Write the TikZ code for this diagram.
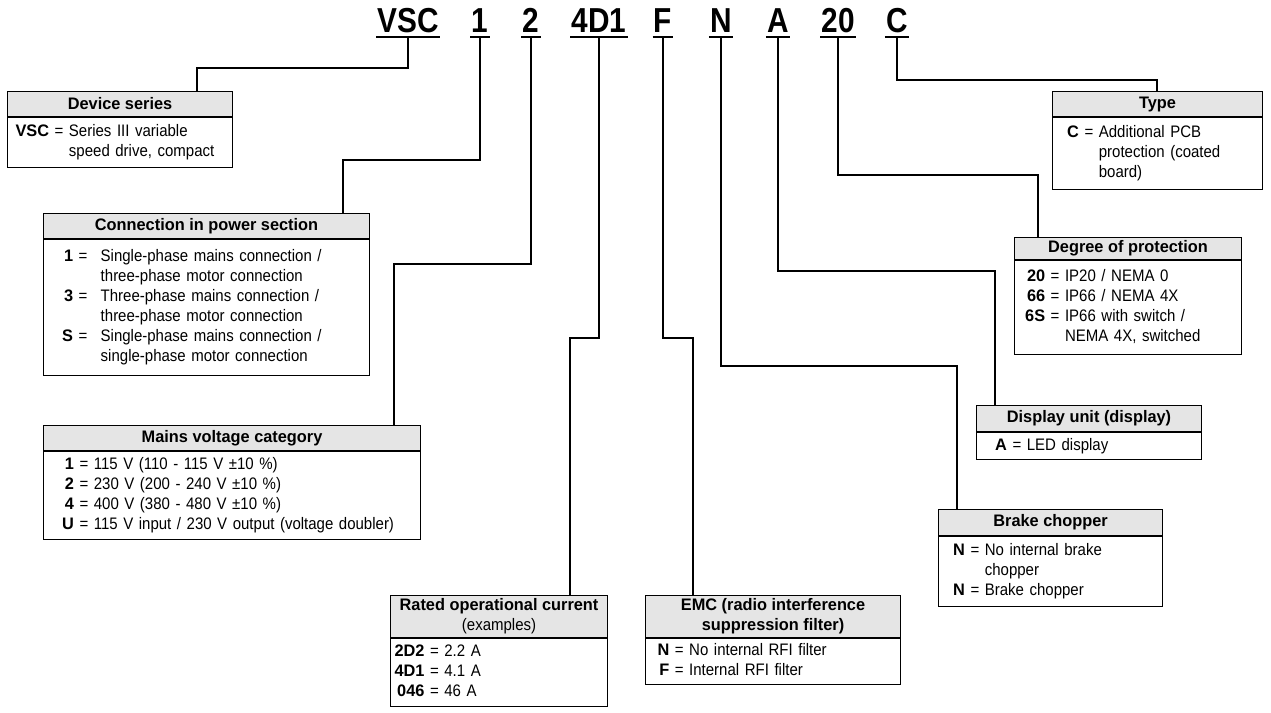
\documentclass[tikz,border=0pt]{standalone}
\usepackage{fontspec}
\setmainfont{Liberation Sans}[FakeStretch=0.9, BoldFeatures={FakeStretch=0.98}]
\newfontfamily\codefont{Liberation Sans}[FakeStretch=0.86]
\definecolor{hdrgray}{gray}{0.9}

\newcommand{\eqs}{\mbox{\ =\ }}
\newcommand{\keyrow}[2]{\textbf{#1} & \eqs & #2\\}
\newcommand{\controw}[1]{& & #1\\}

\begin{document}
\begin{tikzpicture}[x = 0.75pt, y = -0.75pt,
	wire/.style = {line width = 1.1pt},
	code/.style = {font = \codefont\bfseries\fontsize{26}{26}\selectfont, anchor = base, inner xsep = 1pt, inner ysep = 0pt, outer sep = 0pt},
	hdr/.style 2 args = {draw, line width = 0.8pt, fill = hdrgray, anchor = north west, minimum width = #1, minimum height = #2, inner sep = 0pt, align = center, font = \bfseries\fontsize{12.5}{15}\selectfont},
	bdy/.style n args = {3}{draw, line width = 0.8pt, anchor = north west, minimum width = #1, minimum height = #2, inner xsep = #3, inner ysep = 0pt, text width = #1-2*#3, align = left, font = \fontsize{12.5}{15}\selectfont}]

	\useasboundingbox (0, 0) rectangle (1271, 713);

	% type code
	\node[code] (c-vsc)  at (408, 33) {VSC};
	\node[code] (c-conn) at (480, 33) {1};
	\node[code] (c-volt) at (531, 33) {2};
	\node[code] (c-cur)  at (599, 33) {4D1};
	\node[code] (c-emc)  at (663, 33) {F};
	\node[code] (c-brk)  at (721, 33) {N};
	\node[code] (c-disp) at (778, 33) {A};
	\node[code] (c-prot) at (838, 33) {20};
	\node[code] (c-type) at (897, 33) {C};

	\foreach \c in {c-vsc, c-conn, c-volt, c-cur, c-emc, c-brk, c-disp, c-prot, c-type} {
		\draw[line width = 1.5pt] ([yshift = -3pt]\c.base west) -- ([yshift = -3pt]\c.base east);
		\coordinate (\c-u) at ([yshift = -3pt]\c.base);
	}

	% left column
	\node[hdr = {168.75pt}{18.75pt}] (dev) at (7, 91) {Device series};
	\node[bdy = {168.75pt}{37.5pt}{6pt}] (dev-b) at (dev.south west) {%
		\begin{tabular}{@{}r@{}l@{}l@{}}
			\keyrow{VSC}{Series III variable}
			\controw{speed drive, compact}
		\end{tabular}};

	\node[hdr = {244.5pt}{18.75pt}] (conn) at (43, 213) {Connection in power section};
	\node[bdy = {244.5pt}{102pt}{14pt}] (conn-b) at (conn.south west) {%
		\renewcommand{\eqs}{\mbox{\ =\hspace{10pt}}}%
		\begin{tabular}{@{}r@{}l@{}l@{}}
			\keyrow{1}{Single-phase mains connection /}
			\controw{three-phase motor connection}
			\keyrow{3}{Three-phase mains connection /}
			\controw{three-phase motor connection}
			\keyrow{S}{Single-phase mains connection /}
			\controw{single-phase motor connection}
		\end{tabular}};

	\node[hdr = {282.75pt}{18.75pt}] (volt) at (43, 425) {Mains voltage category};
	\node[bdy = {282.75pt}{66pt}{14pt}] (volt-b) at (volt.south west) {%
		\begin{tabular}{@{}r@{}l@{}l@{}}
			\keyrow{1}{115 V (110 - 115 V \textpm10 \%)}
			\keyrow{2}{230 V (200 - 240 V \textpm10 \%)}
			\keyrow{4}{400 V (380 - 480 V \textpm10 \%)}
			\keyrow{U}{115 V input / 230 V output (voltage doubler)}
		\end{tabular}};

	% bottom row
	\node[hdr = {162.75pt}{31.5pt}] (cur) at (390, 595) {Rated operational current\\{\mdseries(examples)}};
	\node[bdy = {162.75pt}{51pt}{3pt}] (cur-b) at (cur.south west) {%
		\begin{tabular}{@{}r@{}l@{}l@{}}
			\keyrow{2D2}{2.2 A}
			\keyrow{4D1}{4.1 A}
			\keyrow{046}{46 A}
		\end{tabular}};

	\node[hdr = {191.25pt}{31.5pt}] (emc) at (645, 595) {EMC (radio interference\\suppression filter)};
	\node[bdy = {191.25pt}{34.5pt}{9pt}] (emc-b) at (emc.south west) {%
		\begin{tabular}{@{}r@{}l@{}l@{}}
			\keyrow{N}{No internal RFI filter}
			\keyrow{F}{Internal RFI filter}
		\end{tabular}};

	% right column
	\node[hdr = {157.5pt}{18.75pt}] (type) at (1052, 91) {Type};
	\node[bdy = {157.5pt}{54pt}{11pt}] (type-b) at (type.south west) {%
		\begin{tabular}{@{}r@{}l@{}l@{}}
			\keyrow{C}{Additional PCB}
			\controw{protection (coated}
			\controw{board)}
		\end{tabular}};

	\node[hdr = {170.25pt}{16.5pt}] (prot) at (1014, 237) {Degree of protection};
	\node[bdy = {170.25pt}{70.5pt}{8pt}] (prot-b) at (prot.south west) {%
		\begin{tabular}{@{}r@{}l@{}l@{}}
			\keyrow{20}{IP20 / NEMA 0}
			\keyrow{66}{IP66 / NEMA 4X}
			\keyrow{6S}{IP66 with switch /}
			\controw{NEMA 4X, switched}
		\end{tabular}};

	\node[hdr = {168.75pt}{19.5pt}] (disp) at (976, 405) {Display unit (display)};
	\node[bdy = {168.75pt}{20.25pt}{14pt}] (disp-b) at (disp.south west) {%
		\begin{tabular}{@{}r@{}l@{}l@{}}
			\keyrow{A}{LED display}
		\end{tabular}};

	\node[hdr = {168pt}{19.5pt}] (brk) at (938, 509) {Brake chopper};
	\node[bdy = {168pt}{52.5pt}{11pt}] (brk-b) at (brk.south west) {%
		\begin{tabular}{@{}r@{}l@{}l@{}}
			\keyrow{N}{No internal brake}
			\controw{chopper}
			\keyrow{N}{Brake chopper}
		\end{tabular}};

	% connectors
	\draw[wire] (c-vsc-u)  -- (c-vsc-u |- 0, 68)   -| ([xshift = 142.5pt]dev.north west);
	\draw[wire] (c-conn-u) -- (c-conn-u |- 0, 160) -| ([xshift = 225pt]conn.north west);
	\draw[wire] (c-volt-u) -- (c-volt-u |- 0, 264) -| ([xshift = 263.25pt]volt.north west);
	\draw[wire] (c-cur-u)  -- (c-cur-u |- 0, 338)  -| ([xshift = 135pt]cur.north west);
	\draw[wire] (c-emc-u)  -- (c-emc-u |- 0, 338)  -| ([xshift = 36pt]emc.north west);
	\draw[wire] (c-brk-u)  -- (c-brk-u |- 0, 366)  -| ([xshift = 14.25pt]brk.north west);
	\draw[wire] (c-disp-u) -- (c-disp-u |- 0, 271) -| ([xshift = 14.25pt]disp.north west);
	\draw[wire] (c-prot-u) -- (c-prot-u |- 0, 175) -| ([xshift = 18pt]prot.north west);
	\draw[wire] (c-type-u) -- (c-type-u |- 0, 80)  -| ([xshift = 78.75pt]type.north west);

\end{tikzpicture}
\end{document}
